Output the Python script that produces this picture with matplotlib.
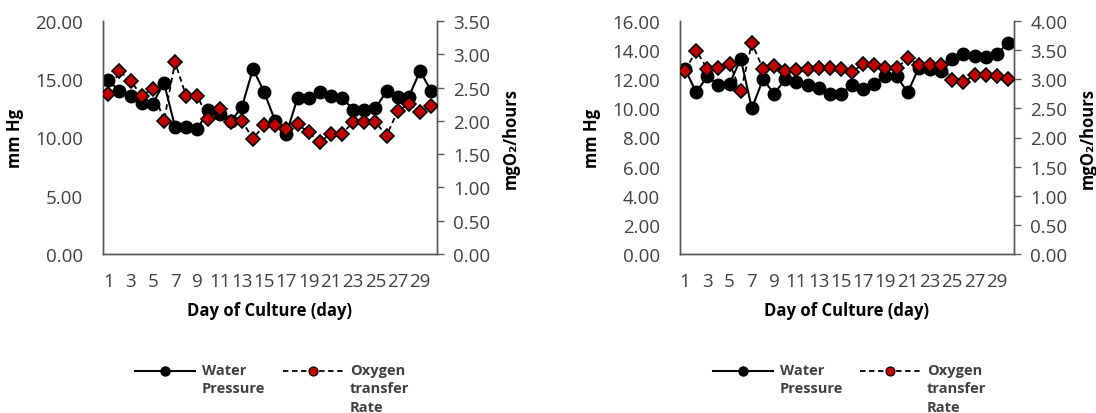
import matplotlib.pyplot as plt
from matplotlib.lines import Line2D

plt.rcParams['font.family'] = ['Open Sans', 'DejaVu Sans']

days = list(range(1, 31))
tick_days = list(range(1, 30, 2))

# left panel
left_pressure = [14.9, 14.0, 13.6, 13.0, 12.9, 14.7, 10.9, 10.9, 10.7, 12.4,
                 12.0, 11.4, 12.6, 15.9, 13.9, 11.4, 10.3, 13.4, 13.4, 13.9,
                 13.6, 13.4, 12.4, 12.4, 12.5, 14.0, 13.5, 13.5, 15.7, 14.0]
left_oxygen = [2.40, 2.75, 2.60, 2.38, 2.48, 2.00, 2.88, 2.37, 2.37, 2.03,
               2.18, 1.98, 2.00, 1.73, 1.94, 1.94, 1.88, 1.95, 1.83, 1.68,
               1.81, 1.81, 1.98, 1.98, 1.98, 1.78, 2.15, 2.25, 2.14, 2.23]

# right panel
right_pressure = [12.7, 11.1, 12.2, 11.6, 11.7, 13.4, 10.0, 12.0, 11.0, 12.0,
                  11.8, 11.6, 11.4, 11.0, 11.0, 11.6, 11.3, 11.7, 12.2, 12.2,
                  11.1, 12.8, 12.7, 12.6, 13.4, 13.7, 13.6, 13.5, 13.7, 14.5]
right_oxygen = [3.15, 3.49, 3.18, 3.19, 3.27, 2.79, 3.62, 3.18, 3.23, 3.15,
                3.16, 3.18, 3.19, 3.19, 3.18, 3.13, 3.26, 3.25, 3.19, 3.19,
                3.36, 3.25, 3.25, 3.25, 2.98, 2.95, 3.07, 3.07, 3.06, 3.00]

left_ticks = [0, 5, 10, 15, 20]
left_ticks_r = [0, 0.5, 1, 1.5, 2, 2.5, 3, 3.5]
right_ticks = [0, 2, 4, 6, 8, 10, 12, 14, 16]
right_ticks_r = [0, 0.5, 1, 1.5, 2, 2.5, 3, 3.5, 4]

grey = '#595959'
txt = '#404040'

fig = plt.figure(figsize=(10.96, 4.14), dpi=100)


def panel(rect, pressure, oxygen, lt, rt):
    ax = fig.add_axes(rect)
    ax2 = ax.twinx()
    ax.plot(days, pressure, color='black', lw=1.5, marker='o', ms=9,
            mfc='black', mec='black', zorder=3)
    ax2.plot(days, oxygen, color='black', lw=1.3, ls=(0, (3, 2)), marker='D',
             ms=7.5, mfc='#c00000', mec='black', mew=1.2, zorder=3)
    ax.set_xlim(0.5, 30.5)
    ax.set_ylim(lt[0], lt[-1])
    ax2.set_ylim(rt[0], rt[-1])
    ax.set_yticks(lt)
    ax.set_yticklabels(['%.2f' % v for v in lt])
    ax2.set_yticks(rt)
    ax2.set_yticklabels(['%.2f' % v for v in rt])
    ax.set_xticks(tick_days)
    ax.set_xticklabels([str(d) for d in tick_days])
    for a in (ax, ax2):
        a.spines['top'].set_visible(False)
        for s in a.spines.values():
            s.set_color(grey)
            s.set_linewidth(1.0)
    ax.tick_params(axis='y', length=0, pad=14, labelsize=13.5, labelcolor=txt)
    ax.tick_params(axis='x', length=0, pad=13, labelsize=13.5, labelcolor=txt)
    ax2.tick_params(axis='y', length=5, width=1, color=grey, direction='out',
                    pad=7, labelsize=13.5, labelcolor=txt)
    ax.set_ylabel('mm Hg', fontsize=12, fontweight='bold', labelpad=8)
    ax2.set_ylabel('mgO₂/hours', fontsize=12, fontweight='bold', labelpad=8)
    ax.set_xlabel('Day of Culture (day)', fontsize=12, fontweight='bold',
                  labelpad=8)
    return ax


def legend(x0, x1):
    W, H = 1096.0, 414.0
    y = 1 - 372 / H
    fig.add_artist(Line2D([x0 / W, (x0 + 60) / W], [y, y], color='black',
                          lw=1.5, transform=fig.transFigure))
    fig.add_artist(Line2D([(x0 + 30) / W], [y], color='black', marker='o',
                          ms=6.5, transform=fig.transFigure))
    fig.text((x0 + 67) / W, y + 8 / H, 'Water\nPressure', fontsize=10.5,
             fontweight='bold', color=txt, va='top', ha='left',
             linespacing=1.4, transform=fig.transFigure)
    fig.add_artist(Line2D([x1 / W, (x1 + 60) / W], [y, y], color='black',
                          lw=1.3, ls=(0, (3, 2)), transform=fig.transFigure))
    fig.add_artist(Line2D([(x1 + 30) / W], [y], color='#c00000', marker='o',
                          ms=6.5, mec='black', mew=0.8,
                          transform=fig.transFigure))
    fig.text((x1 + 67) / W, y + 8 / H, 'Oxygen\ntransfer\nRate', fontsize=10.5,
             fontweight='bold', color=txt, va='top', ha='left',
             linespacing=1.4, transform=fig.transFigure)


panel([102.7 / 1096, 1 - 255 / 414, 334 / 1096, 233 / 414],
      left_pressure, left_oxygen, left_ticks, left_ticks_r)
panel([679.5 / 1096, 1 - 255 / 414, 334 / 1096, 233 / 414],
      right_pressure, right_oxygen, right_ticks, right_ticks_r)

legend(135, 283)
legend(713, 860)

fig.savefig('out.png', dpi=100)
